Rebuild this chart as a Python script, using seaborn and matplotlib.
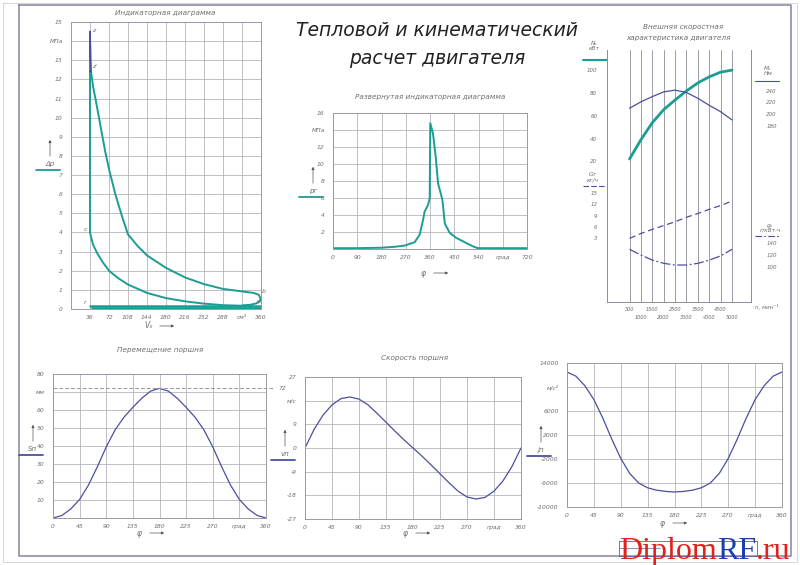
import matplotlib
matplotlib.use("Agg")
import matplotlib.pyplot as plt
import seaborn as sns

sns.set_style("white")
plt.rcParams['font.family'] = ['DejaVu Sans']
plt.rcParams['font.style'] = 'italic'

W, H = 800, 565
TEAL = "#1a9e94"
PURP = "#4b4f9e"
GRID = "#b4b4bc"
TXT = "#6e6e6e"

# ---------------- data ----------------
# indicator diagram p-V
exp_v = [36, 38, 42, 47, 53, 59, 65, 73, 84, 96, 108, 126, 144, 180, 216, 252, 288, 324, 346, 356, 359, 358, 352, 340, 324]
exp_p = [12.4, 12.4, 11.6, 10.9, 10.0, 9.1, 8.2, 7.2, 6.0, 4.9, 3.9, 3.3, 2.8, 2.15, 1.65, 1.3, 1.05, 0.92, 0.84, 0.74, 0.55, 0.4, 0.3, 0.22, 0.18]
comp_v = [340, 324, 288, 252, 216, 180, 144, 108, 90, 72, 60, 50, 42, 38, 36, 36]
comp_p = [0.2, 0.17, 0.2, 0.28, 0.4, 0.57, 0.84, 1.28, 1.6, 2.0, 2.45, 2.9, 3.35, 3.75, 4.0, 12.4]
peak_v = [36, 36, 38]
peak_p = [12.4, 14.5, 12.4]
exh_v = [36, 360]
exh_p = [0.17, 0.17]
ind_v = [40, 360]
ind_p = [0.04, 0.04]

# unfolded indicator diagram
phi_u = [0, 90, 180, 225, 266, 303, 322, 334, 340, 353, 359, 361, 371, 381, 390, 406, 415, 433, 458, 495, 520, 538, 550, 720]
p_u = [0.1, 0.1, 0.15, 0.25, 0.4, 0.8, 1.7, 3.4, 4.4, 5.2, 6.0, 14.8, 13.6, 10.9, 7.7, 5.8, 3.0, 1.9, 1.3, 0.7, 0.3, 0.1, 0.1, 0.1]

# external speed characteristic
rpm = [500, 1000, 1500, 2000, 2500, 3000, 3500, 4000, 4500, 5000]
ne = [22, 39, 54, 65.5, 74, 82, 89, 94.4, 98.5, 100.3]
me = [210, 221, 230, 238, 241, 237, 227, 215, 204, 190]
gt = [3.0, 4.3, 5.4, 6.4, 7.4, 8.6, 9.6, 10.7, 11.7, 12.9]
ge = [129, 119.4, 111, 105.6, 102.8, 102.8, 105.6, 111, 118, 129]

# piston kinematics
phi = [0, 15, 30, 45, 60, 75, 90, 105, 120, 135, 150, 165, 180,
       195, 210, 225, 240, 255, 270, 285, 300, 315, 330, 345, 360]
s_p = [0, 1.4, 5, 10.3, 18.3, 28.5, 39.5, 49, 56, 61.5, 66.5, 70.5, 72,
       70.5, 66.5, 61.5, 56, 49, 39.5, 28.5, 18.3, 10.3, 5, 1.4, 0]
v_p = [0, 7, 12.5, 16.4, 18.8, 19.4, 18.6, 16.4, 13.2, 9.8, 6.4, 3.1, 0,
       -3.1, -6.4, -9.8, -13.2, -16.4, -18.6, -19.4, -18.8, -16.4, -12.5, -7, 0]
j_p = [12500, 11800, 10200, 7900, 4800, 1300, -1900, -4400, -6000, -6800, -7200, -7400, -7500,
       -7400, -7200, -6800, -6000, -4400, -1900, 1300, 4800, 7900, 10200, 11800, 12500]

fig = plt.figure(figsize=(W / 100, H / 100), dpi=100)
fig.patch.set_facecolor("white")

# overlay in pixel coordinates for frame and hand-drawn labels
ov = fig.add_axes([0, 0, 1, 1])
ov.set_xlim(0, W)
ov.set_ylim(H, 0)
ov.axis("off")


def panel(l, t, r, b):
    return fig.add_axes([l / W, 1 - b / H, (r - l) / W, (b - t) / H])


def style(ax, xticks, xlabels, yticks, ylabels, xlim, ylim, ypad=6):
    ax.set_xlim(*xlim)
    ax.set_ylim(*ylim)
    ax.set_xticks(xticks, labels=xlabels)
    ax.set_yticks(yticks, labels=ylabels)
    ax.tick_params(length=0, labelsize=4.3, colors=TXT, pad=ypad)
    ax.tick_params(axis="x", pad=4)
    ax.grid(True, color=GRID, lw=0.6)
    for sp in ax.spines.values():
        sp.set_color("#9a9aa4")
        sp.set_linewidth(0.7)
    ax.set_xlabel("")
    ax.set_ylabel("")


def label_up(x, y, txt, color, ls="-"):
    # symbol with an up-arrow above it and a short line below
    ov.annotate("", xy=(x, y - 30), xytext=(x, y - 8),
                arrowprops=dict(arrowstyle="-|>", color="#555", lw=0.5, mutation_scale=4))
    ov.text(x, y, txt, fontsize=5, color=TXT, ha="center", va="bottom")
    ov.plot([x - 14, x + 10], [y + 3, y + 3], color=color, lw=1.3, ls=ls)


def label_right(x, y, txt):
    ov.text(x, y, txt, fontsize=5.5, color=TXT, ha="center", va="center")
    ov.annotate("", xy=(x + 28, y), xytext=(x + 8, y),
                arrowprops=dict(arrowstyle="-|>", color="#555", lw=0.5, mutation_scale=4))


# frame
ov.plot([3, 797, 797, 3, 3], [3, 3, 562, 562, 3], color="#d0d0d8", lw=0.6)
ov.plot([19, 791, 791, 19, 19], [5, 5, 556, 556, 5], color="#8c8ca8", lw=1.2)
ov.plot([619, 757, 757, 619, 619], [541, 541, 556, 556, 541], color="#6060a0", lw=0.6)
ov.plot([619, 660], [548, 548], color="#6060a0", lw=0.5)

# main title
ov.text(437, 31, "Тепловой и кинематический", fontsize=13.5, color="#222", fontweight="light",
        ha="center", va="center")
ov.text(437, 58, "расчет двигателя", fontsize=13.5, color="#222", fontweight="light",
        ha="center", va="center")

# ---------------- panel 1: indicator diagram ----------------
ax1 = panel(71, 22, 261, 309)
style(ax1, list(range(36, 361, 36)),
      ["36", "72", "108", "144", "180", "216", "252", "288", "см³", "360"],
      list(range(0, 16)),
      ["0", "1", "2", "3", "4", "5", "6", "7", "8", "9", "10", "11", "12", "13", "МПа", "15"],
      (0, 360), (0, 15))
sns.lineplot(x=exp_v, y=exp_p, sort=False, estimator=None, color=TEAL, lw=1.4, ax=ax1)
sns.lineplot(x=comp_v, y=comp_p, sort=False, estimator=None, color=TEAL, lw=1.4, ax=ax1)
sns.lineplot(x=peak_v, y=peak_p, sort=False, estimator=None, color=PURP, lw=1.2, ax=ax1)
sns.lineplot(x=exh_v, y=exh_p, sort=False, estimator=None, color=TEAL, lw=1.8, ax=ax1)
sns.lineplot(x=ind_v, y=ind_p, sort=False, estimator=None, color=TEAL, lw=1.8, ax=ax1)
ax1.set_xlabel(""); ax1.set_ylabel("")
for (tx, ty, s) in [(39, 14.5, "z"), (40, 12.6, "z'"), (30, 4.1, "c"), (30, 0.25, "r"),
                    (362, 0.85, "b"), (350, 0.3, "a")]:
    ax1.text(tx, ty, s, fontsize=4.5, color=TXT, ha="left" if tx > 35 else "right")
ov.text(165, 13, "Индикаторная диаграмма", fontsize=5.2, color=TXT, ha="center", va="center")
label_up(50, 167, "Δр", TEAL)
label_right(149, 326, "Vₓ")

# ---------------- panel 2: unfolded diagram ----------------
ax2 = panel(333, 113, 527, 249)
style(ax2, list(range(0, 721, 90)),
      ["0", "90", "180", "270", "360", "450", "540", "град", "720"],
      list(range(2, 17, 2)),
      ["2", "4", "6", "8", "10", "12", "МПа", "16"],
      (0, 720), (0, 16))
sns.lineplot(x=phi_u, y=p_u, sort=False, estimator=None, color=TEAL, lw=1.4, ax=ax2)
ax2.set_xlabel(""); ax2.set_ylabel("")
ov.text(430, 97, "Развернутая индикаторная диаграмма", fontsize=5.2, color=TXT, ha="center", va="center")
label_up(313, 194, "рг", TEAL)
label_right(423, 273, "φ")

# ---------------- panel 3: external speed characteristic ----------------
ax3 = panel(607, 50, 751, 302)
ax3.set_xlim(-491, 5833)
ax3.set_ylim(-104, 118)
ax3.set_xticks(rpm, labels=[""] * len(rpm))
ax3.set_yticks([20, 40, 60, 80, 100])
ax3.tick_params(length=0, labelsize=4, colors=TXT, pad=3)
ax3.tick_params(axis="y", pad=7)
ax3.grid(True, axis="x", color="#8c8c98", lw=0.6)
ax3.spines["top"].set_visible(False)
for sp in ["left", "right", "bottom"]:
    ax3.spines[sp].set_color("#8c8c98")
    ax3.spines[sp].set_linewidth(0.7)
sns.lineplot(x=rpm, y=ne, color=TEAL, lw=2.0, ax=ax3)
ax3.set_xlabel(""); ax3.set_ylabel("")
# staggered rpm labels in two rows
xt = ax3.get_xaxis_transform()
for i, r in enumerate(rpm):
    ax3.text(r, -0.02 if i % 2 == 0 else -0.05, str(r), transform=xt, fontsize=3.6,
             color=TXT, ha="center", va="top")

ax3g = ax3.twinx()
ax3g.set_ylim(-13.85, 52.9)
sns.lineplot(x=rpm, y=gt, color=PURP, lw=0.9, ax=ax3g)
ax3g.lines[-1].set_dashes([5, 3])
ax3g.yaxis.tick_left()
ax3g.set_yticks([3, 6, 9, 12, 15])

ax3m = ax3.twinx()
ax3m.set_ylim(-122, 309.8)
sns.lineplot(x=rpm, y=me, color=PURP, lw=0.9, ax=ax3m)
ax3m.set_yticks([180, 200, 220, 240])

ax3e = ax3.twinx()
ax3e.set_ylim(41.2, 461)
sns.lineplot(x=rpm, y=ge, color=PURP, lw=0.9, ax=ax3e)
ax3e.lines[-1].set_dashes([8, 2, 1.5, 2])
ax3e.set_yticks([100, 120, 140])

for a, pd_ in [(ax3g, 7), (ax3m, 11), (ax3e, 11)]:
    a.tick_params(length=0, labelsize=4, colors=TXT, pad=pd_)
    a.set_ylabel("")
    for sp in a.spines.values():
        sp.set_visible(False)
    a.grid(False)

ov.text(683, 27, "Внешняя скоростная", fontsize=5.2, color=TXT, ha="center", va="center")
ov.text(678, 38, "характеристика двигателя", fontsize=5.2, color=TXT, ha="center", va="center")
ov.text(594, 46, "Nₑ\nкВт", fontsize=4.2, color=TXT, ha="center", va="center", linespacing=1.0)
ov.plot([583, 607], [60, 60], color=TEAL, lw=1.5)
ov.text(768, 71, "Mₑ\nНм", fontsize=4.2, color=TXT, ha="center", va="center", linespacing=1.0)
ov.plot([755, 779], [81, 81], color=PURP, lw=0.8)
ov.text(593, 177, "Gт\nкг/ч", fontsize=4.2, color=TXT, ha="center", va="center", linespacing=1.0)
ov.plot([583, 607], [186, 186], color=PURP, lw=0.8, dashes=[5, 2])
ov.text(770, 228, "gₑ\nг/кВт·ч", fontsize=4.2, color=TXT, ha="center", va="center", linespacing=1.0)
ov.plot([755, 780], [236, 236], color=PURP, lw=0.8, dashes=[6, 2, 1.5, 2])
ov.text(755, 307, "n, мин⁻¹", fontsize=4, color=TXT, ha="left", va="center")
ov.plot([675, 751], [90.5, 90.5], color="#555", lw=0.5)
ov.plot([686, 751], [265, 265], color="#555", lw=0.5)
ov.annotate("", xy=(746.5, 91), xytext=(746.5, 200),
            arrowprops=dict(arrowstyle="-|>", color="#555", lw=0.5, mutation_scale=4))
ov.annotate("", xy=(746.5, 265), xytext=(746.5, 200),
            arrowprops=dict(arrowstyle="-|>", color="#555", lw=0.5, mutation_scale=4))
ov.text(740, 155, "Mₑ max = 239 Нм", fontsize=4.2, color=TXT, rotation=90, ha="center", va="center")
ov.text(740, 228, "gₑ min = 102 г/кВт·ч", fontsize=4.2, color=TXT, rotation=90, ha="center", va="center")

# ---------------- panel 4: piston displacement ----------------
xk = list(range(0, 361, 45))
xkl = ["0", "45", "90", "135", "180", "225", "270", "град", "360"]
ax4 = panel(53, 374, 266, 518)
style(ax4, xk, xkl, list(range(10, 81, 10)),
      ["10", "20", "30", "40", "50", "60", "мм", "80"], (0, 360), (0, 80))
sns.lineplot(x=phi, y=s_p, color=PURP, lw=0.9, ax=ax4)
ax4.set_xlabel(""); ax4.set_ylabel("")
ax4.plot([0, 372], [72, 72], color="#999", lw=0.7, ls=(0, (4, 2)), clip_on=False)
ax4.text(381, 72, "72", fontsize=4.3, color=TXT, va="center")
ov.text(160, 350, "Перемещение поршня", fontsize=5.2, color=TXT, ha="center", va="center")
label_up(33, 452, "Sп", PURP)
label_right(139, 533, "φ")

# ---------------- panel 5: piston velocity ----------------
ax5 = panel(305, 377, 521, 519)
style(ax5, xk, xkl, list(range(-27, 28, 9)),
      ["-27", "-18", "-9", "0", "9", "м/с", "27"], (0, 360), (-27, 27))
sns.lineplot(x=phi, y=v_p, color=PURP, lw=0.9, ax=ax5)
ax5.set_xlabel(""); ax5.set_ylabel("")
ov.text(415, 358, "Скорость поршня", fontsize=5.2, color=TXT, ha="center", va="center")
label_up(285, 457, "vп", PURP)
label_right(405, 533, "φ")

# ---------------- panel 6: piston acceleration ----------------
ax6 = panel(567, 363, 782, 507)
style(ax6, xk, xkl, list(range(-10000, 14001, 4000)),
      ["-10000", "-6000", "-2000", "2000", "6000", "м/с²", "14000"], (0, 360), (-10000, 14000))
sns.lineplot(x=phi, y=j_p, color=PURP, lw=0.9, ax=ax6)
ax6.set_xlabel(""); ax6.set_ylabel("")
label_up(541, 453, "jп", PURP)
label_right(662, 523, "φ")

# watermark of the source sheet
t1 = ov.text(619, 559, "Diplom", fontsize=23, color="#e3201c", family="Liberation Serif",
             style="normal", ha="left", va="baseline")
t2 = ov.annotate("RF", xy=(1, 0), xycoords=t1, fontsize=23, color="#1c3fae",
                 family="Liberation Serif", style="normal", va="bottom")
ov.annotate(".ru", xy=(1, 0), xycoords=t2, fontsize=23, color="#e3201c",
            family="Liberation Serif", style="normal", va="bottom")

fig.savefig("out.png", dpi=100)
